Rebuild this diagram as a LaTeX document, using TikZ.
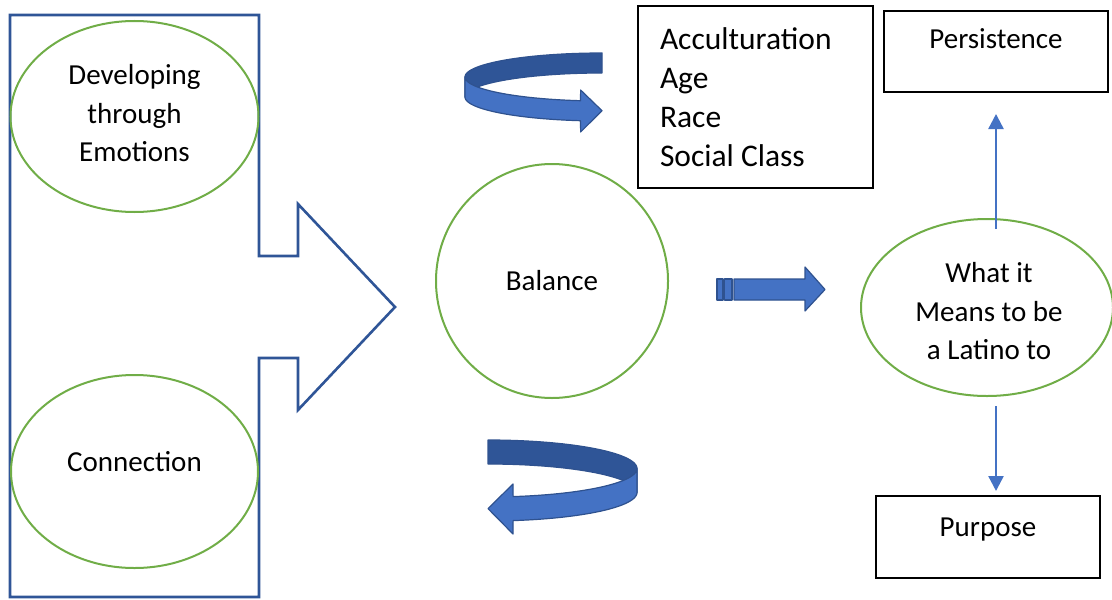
\documentclass[tikz,border=0pt]{standalone}
\usepackage{fontspec}
\setmainfont{Carlito}
\usetikzlibrary{shapes.geometric,arrows.meta}
\definecolor{ovalgreen}{HTML}{70AD47}
\definecolor{shapeblue}{HTML}{2F5597}
\definecolor{ribbonlight}{HTML}{4472C4}
\definecolor{ribbondark}{HTML}{2F5597}
\definecolor{ribbonedge}{HTML}{2F528F}
\definecolor{linkblue}{HTML}{4472C4}

\begin{document}
\begin{tikzpicture}[x=0.5pt,y=-0.5pt,
  oval/.style={ellipse, draw=ovalgreen, line width=1pt, inner sep=0pt},
  lbl/.style={font=\fontsize{14.5}{19.25}\selectfont, align=flush center, inner sep=0pt},
  box/.style={draw=black, line width=1pt, inner sep=0pt, font=\fontsize{14.5}{19.25}\selectfont},
  ribbon/.style={draw=ribbonedge, line width=0.6pt, line join=round},
  link/.style={draw=linkblue, line width=1.2pt, -{Triangle[length=7.5pt,width=7.5pt]}},
]
\useasboundingbox (0,0) rectangle (1112,599);

% open block arrow that gathers the two left themes
\draw[shapeblue, line width=1.3pt, line join=miter]
  (10,15) -- (259,15) -- (259,256) -- (298,256) -- (298,204) -- (395,307)
  -- (298,410) -- (298,358) -- (259,358) -- (259,597) -- (10,597) -- cycle;

% themes
\node[oval, minimum width=124pt, minimum height=95.5pt] (dev) at (134.5,116.5) {};
\node[lbl] (devtxt) at ([yshift=1.5pt]dev.center) {Developing\\through\\Emotions};

\node[oval, minimum width=123.5pt, minimum height=96.5pt] (con) at (134.5,471.5) {};
\node[lbl] (contxt) at ([yshift=4.75pt]con.center) {Connection};

\node[oval, minimum width=116pt, minimum height=117pt] (bal) at (552,281) {};
\node[lbl] (baltxt) at (bal.center) {Balance};

\node[oval, minimum width=126pt, minimum height=88.5pt] (lat) at (987,307.5) {};
\node[lbl] (lattxt) at ([xshift=1pt,yshift=-2pt]lat.center) {What it\\Means to be\\a Latino to};

% boxes
\node[box, text width=95.5pt, inner xsep=11pt, minimum height=91pt, align=flush left,
      font=\fontsize{15.75}{19.5}\selectfont] (fac) at (755.5,97)
  {Acculturation\\Age\\Race\\Social Class};

\node[box, minimum width=112pt, minimum height=40.5pt, text height=10pt, text depth=12.5pt]
  (pers) at (996,51.5) {Persistence};

\node[box, minimum width=112pt, minimum height=41pt, text height=10pt, text depth=11pt]
  (purp) at (988,537) {Purpose};

% links
\draw[link, shorten <=-5.5pt, shorten >=10.5pt] (pers.south |- lat.north) -- (pers.south);
\draw[link, shorten <=4.5pt, shorten >=2pt] (pers.south |- lat.south) -- (pers.south |- purp.north);

% curved ribbon arrow, top
\draw[ribbon, fill=ribbondark]
  plot[domain=90:180, samples=40] ({602+137*cos(\x)},{77-24*sin(\x)})
  -- plot[domain=180:90, samples=40] ({602+137*cos(\x)},{97-24*sin(\x)}) -- cycle;
\draw[ribbon, fill=ribbonlight]
  plot[domain=180:261, samples=40] ({602+137*cos(\x)},{77-24*sin(\x)})
  -- (580.6,90) -- (602,110.7) -- (580.6,132)
  -- plot[domain=261:180, samples=40] ({602+137*cos(\x)},{97-24*sin(\x)}) -- cycle;

% curved ribbon arrow, bottom
\draw[ribbon, fill=ribbondark]
  plot[domain=90:0, samples=40] ({488+149*cos(\x)},{468.5-28.5*sin(\x)})
  -- plot[domain=0:90, samples=40] ({488+149*cos(\x)},{492.5-28.5*sin(\x)}) -- cycle;
\draw[ribbon, fill=ribbonlight]
  plot[domain=0:-80.3, samples=40] ({488+149*cos(\x)},{468.5-28.5*sin(\x)})
  -- (513,484) -- (488,508.6) -- (513,534)
  -- plot[domain=-80.3:0, samples=40] ({488+149*cos(\x)},{492.5-28.5*sin(\x)}) -- cycle;

% striped arrow
\draw[ribbon, fill=ribbonlight] (717,279) rectangle (723,300);
\draw[ribbon, fill=ribbonlight] (724.5,279) rectangle (732,300);
\draw[ribbon, fill=ribbonlight] (734,279) -- (805,279) -- (805,267) -- (825,289.5)
  -- (805,311) -- (805,300) -- (734,300) -- cycle;
\end{tikzpicture}
\end{document}
